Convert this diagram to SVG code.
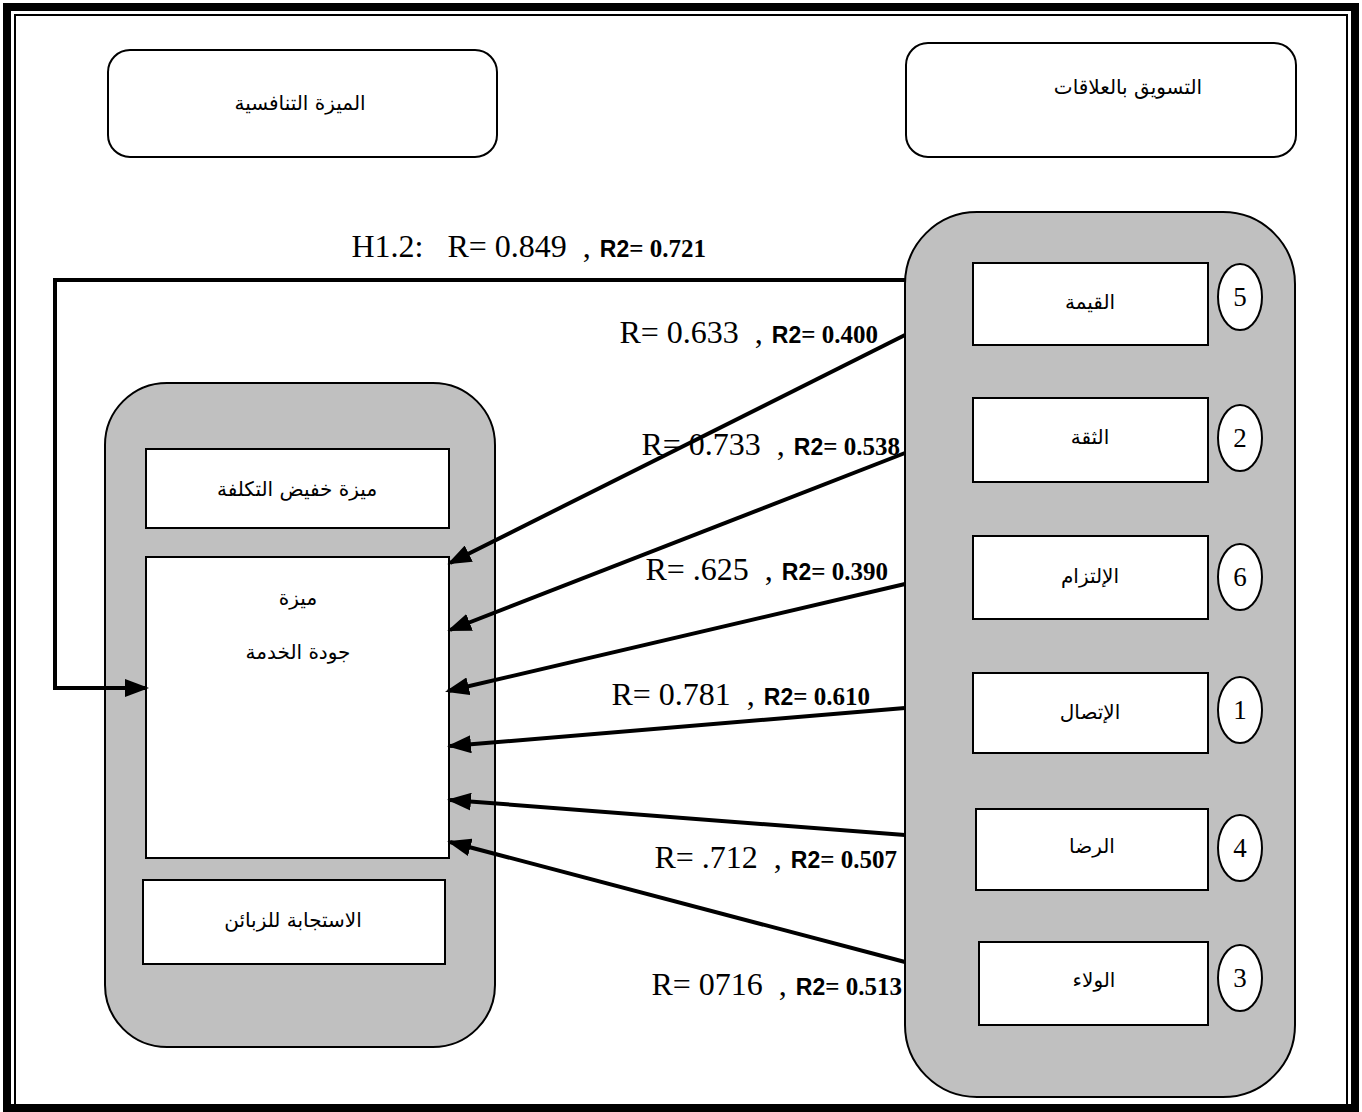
<svg xmlns="http://www.w3.org/2000/svg" width="1362" height="1112" viewBox="0 0 1362 1112">
<style>
.hdr{fill:#fff;stroke:#000;stroke-width:2}
.grp{fill:#c0c0c0;stroke:#000;stroke-width:2}
.box{fill:#fff;stroke:#000;stroke-width:2}
.ar{font-family:"DejaVu Sans",sans-serif;font-size:20px;fill:#000;text-anchor:middle}
.num{font-family:"Liberation Serif",serif;font-size:27px;fill:#000;text-anchor:middle}
.r{font-family:"Liberation Serif",serif;font-size:32px}
.b{font-family:"Liberation Sans",sans-serif;font-size:23px;font-weight:bold}
.bn{font-family:"Liberation Serif",serif;font-size:25px;font-weight:bold}
.con{fill:none;stroke:#000;stroke-width:4;marker-end:url(#ah)}
</style>
<defs>
<marker id="ah" markerUnits="userSpaceOnUse" markerWidth="24" markerHeight="18" refX="21" refY="9" orient="auto">
<path d="M0,0 L24,9 L0,18 z" fill="#000"/>
</marker>
</defs>
<rect x="0" y="0" width="1362" height="1112" fill="#fff"/>
<rect x="7" y="7" width="1348" height="1101" fill="none" stroke="#000" stroke-width="8"/>
<rect x="15" y="15" width="1332" height="1090" fill="none" stroke="#000" stroke-width="2"/>

<g id="hdr-left"><rect class="hdr" x="108" y="50" width="389" height="107" rx="22"/><text class="ar" x="300" y="110">الميزة التنافسية</text></g>
<g id="hdr-right"><rect class="hdr" x="906" y="43" width="390" height="114" rx="22"/><text class="ar" x="1128" y="94">التسويق بالعلاقات</text></g>

<g id="left-group"><rect class="grp" x="105" y="383" width="390" height="664" rx="62"/></g>
<g id="n-cost"><rect class="box" x="146" y="449" width="303" height="79"/><text class="ar" x="297" y="496">ميزة خفيض التكلفة</text></g>
<g id="n-quality"><rect class="box" x="146" y="557" width="303" height="301"/><text class="ar" x="298" y="605">ميزة</text><text class="ar" x="298" y="659">جودة الخدمة</text></g>
<g id="n-resp"><rect class="box" x="143" y="880" width="302" height="84"/><text class="ar" x="293" y="927">الاستجابة للزبائن</text></g>

<g id="right-group"><rect class="grp" x="905" y="212" width="390" height="885" rx="72"/></g>
<g id="n-value"><rect class="box" x="973" y="263" width="235" height="82"/><text class="ar" x="1090" y="309">القيمة</text><ellipse class="box" cx="1240" cy="297" rx="22" ry="33"/><text class="num" x="1240" y="306">5</text></g>
<g id="n-trust"><rect class="box" x="973" y="398" width="235" height="84"/><text class="ar" x="1090" y="444">الثقة</text><ellipse class="box" cx="1240" cy="438" rx="22" ry="33"/><text class="num" x="1240" y="447">2</text></g>
<g id="n-commit"><rect class="box" x="973" y="536" width="235" height="83"/><text class="ar" x="1090" y="583">الإلتزام</text><ellipse class="box" cx="1240" cy="577" rx="22" ry="33"/><text class="num" x="1240" y="586">6</text></g>
<g id="n-comm"><rect class="box" x="973" y="673" width="235" height="80"/><text class="ar" x="1090" y="719">الإتصال</text><ellipse class="box" cx="1240" cy="710" rx="22" ry="33"/><text class="num" x="1240" y="719">1</text></g>
<g id="n-satis"><rect class="box" x="976" y="809" width="232" height="81"/><text class="ar" x="1092" y="853">الرضا</text><ellipse class="box" cx="1240" cy="848" rx="22" ry="33"/><text class="num" x="1240" y="857">4</text></g>
<g id="n-loyal"><rect class="box" x="979" y="942" width="229" height="83"/><text class="ar" x="1094" y="987">الولاء</text><ellipse class="box" cx="1240" cy="978" rx="22" ry="33"/><text class="num" x="1240" y="987">3</text></g>

<g id="connectors">
<polyline class="con" points="905,280 55,280 55,688 146,688"/>
<line class="con" x1="905" y1="335" x2="450" y2="563"/>
<line class="con" x1="905" y1="453" x2="450" y2="630"/>
<line class="con" x1="905" y1="584" x2="448" y2="691"/>
<line class="con" x1="905" y1="708" x2="450" y2="746"/>
<line class="con" x1="905" y1="835" x2="450" y2="800"/>
<line class="con" x1="905" y1="962" x2="450" y2="842"/>
</g>

<g id="labels">
<text x="706" y="257" text-anchor="end"><tspan class="r">H1.2:</tspan><tspan class="r" dx="24">R= 0.849</tspan><tspan class="r" dx="16">,</tspan><tspan class="b" dx="9">R2</tspan><tspan class="bn">= 0.721</tspan></text>
<text x="878" y="343" text-anchor="end"><tspan class="r">R= 0.633</tspan><tspan class="r" dx="16">,</tspan><tspan class="b" dx="9">R2</tspan><tspan class="bn">= 0.400</tspan></text>
<text x="900" y="455" text-anchor="end"><tspan class="r">R= 0.733</tspan><tspan class="r" dx="16">,</tspan><tspan class="b" dx="9">R2</tspan><tspan class="bn">= 0.538</tspan></text>
<text x="888" y="580" text-anchor="end"><tspan class="r">R= .625</tspan><tspan class="r" dx="16">,</tspan><tspan class="b" dx="9">R2</tspan><tspan class="bn">= 0.390</tspan></text>
<text x="870" y="705" text-anchor="end"><tspan class="r">R= 0.781</tspan><tspan class="r" dx="16">,</tspan><tspan class="b" dx="9">R2</tspan><tspan class="bn">= 0.610</tspan></text>
<text x="897" y="868" text-anchor="end"><tspan class="r">R= .712</tspan><tspan class="r" dx="16">,</tspan><tspan class="b" dx="9">R2</tspan><tspan class="bn">= 0.507</tspan></text>
<text x="902" y="995" text-anchor="end"><tspan class="r">R= 0716</tspan><tspan class="r" dx="16">,</tspan><tspan class="b" dx="9">R2</tspan><tspan class="bn">= 0.513</tspan></text>
</g>
</svg>
